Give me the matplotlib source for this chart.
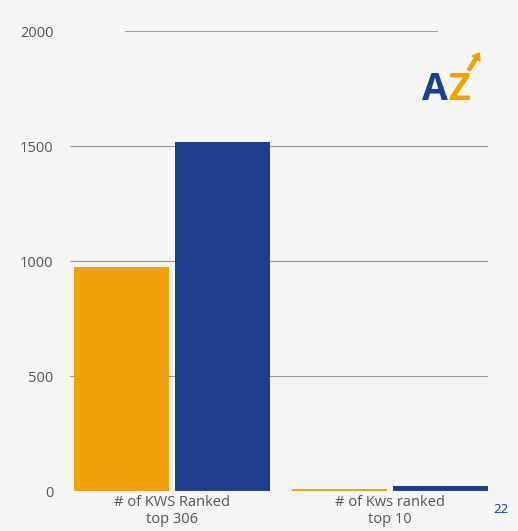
import matplotlib
matplotlib.use("Agg")
import matplotlib.pyplot as plt
import numpy as np

categories = ["# of KWS Ranked\ntop 306", "# of Kws ranked\ntop 10"]
series_a = [975, 10]
series_b = [1518, 22]
yticks = [0, 500, 1000, 1500, 2000]

ORANGE = "#EFA107"
BLUE = "#1F3D8F"
BG = "#F5F5F5"

plt.rcParams['font.family'] = ['Open Sans', 'DejaVu Sans']
fig = plt.figure(figsize=(5.18, 5.31), dpi=100, facecolor=BG)
ax = fig.add_axes([0.135, 0.0753, 0.807, 0.8663], facecolor=BG)

x = np.arange(len(categories))
w = 0.435
off = w / 2 + 0.014
ax.bar(x - off, series_a, w, color=ORANGE, zorder=3)
ax.bar(x + off, series_b, w, color=BLUE, zorder=3)

ax.set_xlim(-0.468, 1.45)
ax.set_ylim(0, 2000)
ax.set_yticks(yticks)
ax.set_yticklabels([str(v) for v in yticks], color="#555555", fontsize=10.5)
ax.set_xticks(x)
ax.set_xticklabels(categories, color="#555555", fontsize=10.5)
ax.tick_params(length=0, pad=12)
ax.tick_params(axis='x', pad=3)
for v in yticks[1:4]:
    ax.axhline(v, color="#9a9a9a", lw=0.8, zorder=1)
ax.axhline(2000, xmin=55/418, xmax=367/418, color="#9a9a9a", lw=0.8, zorder=1)
ax.axhline(0, color="#bbbbbb", lw=0.8, zorder=4)
for s in ax.spines.values():
    s.set_visible(False)

# logo
fig.text(0.815, 0.812, "A", color=BLUE, fontsize=27, fontweight="bold")
fig.text(0.865, 0.812, "Z", color=ORANGE, fontsize=27, fontweight="bold")
fig.patches.append(matplotlib.patches.FancyArrow(0.905, 0.868, 0.014, 0.022, width=0.006,
                   head_width=0.018, head_length=0.012, color=ORANGE, transform=fig.transFigure))
fig.text(0.968, 0.033, "22", color=BLUE, fontsize=9.5, ha="center")

fig.savefig("out.png", dpi=100, facecolor=BG)
